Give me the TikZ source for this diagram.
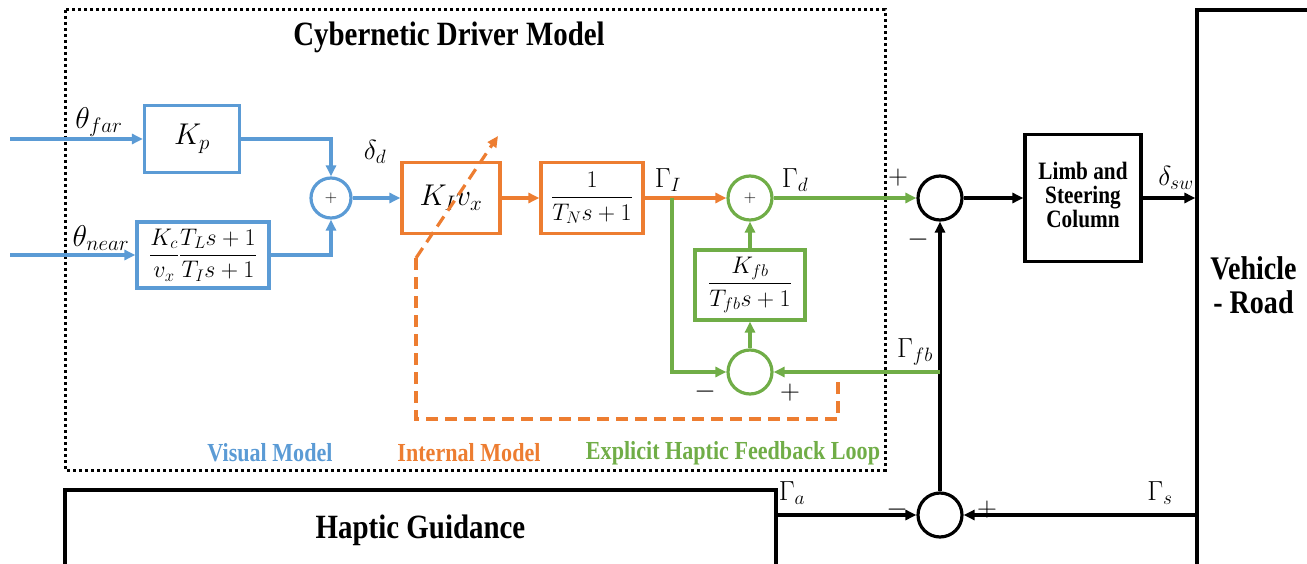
\RequirePackage{fix-cm}
\documentclass[tikz,border=0pt]{standalone}
\usepackage{amsmath}
\usepackage{fontspec}
\setmainfont{Liberation Serif}
\usetikzlibrary{arrows.meta,positioning}

\definecolor{visblue}{HTML}{5B9BD5}
\definecolor{intorange}{HTML}{ED7D31}
\definecolor{hapgreen}{HTML}{70AD47}
\newcommand{\narrowtxt}[1]{\scalebox{0.85}[1]{#1}}
\newcommand{\symm}[1]{\scalebox{1.15}{$#1$}}
\newcommand{\wsymm}[1]{\scalebox{1.25}{$#1$}}

\begin{document}
\begin{tikzpicture}[x=1pt,y=-1pt,
  every node/.style={font=\fontsize{24}{28}\selectfont},
  tip/.style={-{Triangle[length=11pt,width=10pt]}},
  box/.style={draw=#1,line width=3.2pt,fill=white,inner sep=2pt},
  box/.default=black,
  sumc/.style={draw=#1,circle,line width=3.2pt,minimum size=44pt,inner sep=0pt,font=\fontsize{17}{18}\selectfont},
  sumc/.default=black,
  sig/.style={line width=3.2pt},
  lbl/.style={inner sep=1pt},
  bigtxt/.style={font=\fontsize{34}{38}\selectfont\bfseries},
  legtxt/.style={font=\fontsize{26}{30}\selectfont\bfseries}]
\useasboundingbox (0,0) rectangle (1307,564);
% driver model frame
\draw[line width=3pt,dash pattern=on 3pt off 3pt] (65,10) rectangle (885,470);
\node[bigtxt] (title) at (449,37) {\narrowtxt{Cybernetic Driver Model}};
% visual model
\node[box=visblue,minimum width=95pt,minimum height=67pt] (kp) at (192,139) {\wsymm{K_p}};
\node[box=visblue,minimum width=132pt,minimum height=66pt,inner sep=0pt] (kc) at (203,255)
  {$\dfrac{K_c}{v_x}\dfrac{T_L s+1}{T_I s+1}$};
\node[sumc=visblue,minimum size=40pt] (sumv) at (331,198) {$+$};
\coordinate (infar) at (10,139);
\coordinate (innear) at (10,255);
\draw[sig,visblue,tip] (infar) -- (kp);
\draw[sig,visblue,tip] (innear) -- (kc);
\draw[sig,visblue,tip] (kp.east) -| (sumv.north);
\draw[sig,visblue,tip] (kc.east) -| (sumv.south);
\node[lbl] (lfar) at (99,122) {\wsymm{\theta_{far}}};
\node[lbl] (lnear) at (101,238) {\wsymm{\theta_{near}}};
\node[lbl] (ldd) at (375,152) {\symm{\delta_d}};
% internal model
\node[box=intorange,minimum width=98pt,minimum height=71pt] (kiv) at (451,198) {\wsymm{K_I v_x}};
\node[box=intorange,minimum width=102pt,minimum height=71pt,inner sep=0pt] (tn) at (592,198)
  {$\dfrac{1}{T_N s+1}$};
\draw[sig,visblue,tip] (sumv) -- (kiv);
\draw[sig,intorange,tip] (kiv) -- (tn);
\coordinate (kstart) at (416,258);
\coordinate (ktip) at (498,136);
\coordinate (fbend) at (838,377);
\draw[sig,intorange,dash pattern=on 12pt off 7pt,tip] (kstart) -- (ktip);
\draw[sig,intorange,dash pattern=on 12pt off 7pt] (kstart) -- (416,419) -| (fbend);
\node[lbl] (lgi) at (668,180) {\symm{\Gamma_I}};
% haptic feedback loop
\node[sumc=hapgreen] (sumt) at (750,198) {$+$};
\node[box=hapgreen,minimum width=110pt,minimum height=70pt,inner sep=0pt] (kfb) at (750,285)
  {$\dfrac{K_{fb}}{T_{fb}s+1}$};
\node[sumc=hapgreen] (sumb) at (750,372) {};
\coordinate (split) at (672,198);
\draw[sig,intorange,tip] (tn.east) -- (sumt.west);
\draw[sig,hapgreen,tip] (split) |- (sumb.west);
\draw[sig,hapgreen,tip] (kfb.north) -- (sumt.south);
\draw[sig,hapgreen,tip] (sumb.north) -- (kfb.south);
\node[lbl] (lgd) at (795,180) {\symm{\Gamma_d}};
\node[lbl] (lmb) at (705,392) {\symm{-}};
\node[lbl] (lpb) at (790,393) {\symm{+}};
% steering system
\node[sumc] (sumd) at (940,198) {};
\node[sumc] (sums) at (940,515) {};
\node[box,minimum width=116pt,minimum height=127pt,font=\fontsize{25}{26}\selectfont\bfseries]
  (limb) at (1083,198) {\narrowtxt{\begin{tabular}{@{}c@{}}Limb and\\[-2pt]Steering\\[-2pt]Column\end{tabular}}};
\node[box,minimum width=113pt,minimum height=560pt,font=\fontsize{33}{34}\selectfont\bfseries]
  (vehicle) at (1253.5,290) {\narrowtxt{\begin{tabular}{@{}c@{}}Vehicle\\- Road\end{tabular}}};
\node[box,minimum width=711pt,minimum height=80pt,font=\fontsize{34}{38}\selectfont\bfseries]
  (haptic) at (420.5,530) {\narrowtxt{Haptic Guidance}};
\coordinate (fbtap) at (940,372);
\draw[sig,hapgreen,tip] (sumt.east) -- (sumd.west);
\draw[sig,tip] (sums.north) -- (sumd.south);
\draw[sig,hapgreen,tip] (fbtap) -- (sumb.east);
\draw[sig,tip] (sumd.east) -- (limb.west);
\draw[sig,tip] (limb.east) -- (limb.east -| vehicle.west);
\draw[sig,tip] (sums -| vehicle.west) -- (sums.east);
\draw[sig,tip] (sums -| haptic.east) -- (sums.west);
\node[lbl] (lpd) at (898,178) {\symm{+}};
\node[lbl] (lmd) at (918,240) {\symm{-}};
\node[lbl] (lgfb) at (915,352) {\symm{\Gamma_{fb}}};
\node[lbl] (lsw) at (1176,178) {\symm{\delta_{sw}}};
\node[lbl] (lga) at (792,493) {\symm{\Gamma_a}};
\node[lbl] (lms) at (897,510) {\symm{-}};
\node[lbl] (lps) at (987,510) {\symm{+}};
\node[lbl] (lgs) at (1160,493) {\symm{\Gamma_s}};
% legend
\node[legtxt,visblue] (legv) at (270,453) {\narrowtxt{Visual Model}};
\node[legtxt,intorange] (legi) at (469,453) {\narrowtxt{Internal Model}};
\node[legtxt,hapgreen] (legh) at (733,453) {\narrowtxt{Explicit Haptic Feedback Loop}};
\end{tikzpicture}
\end{document}
